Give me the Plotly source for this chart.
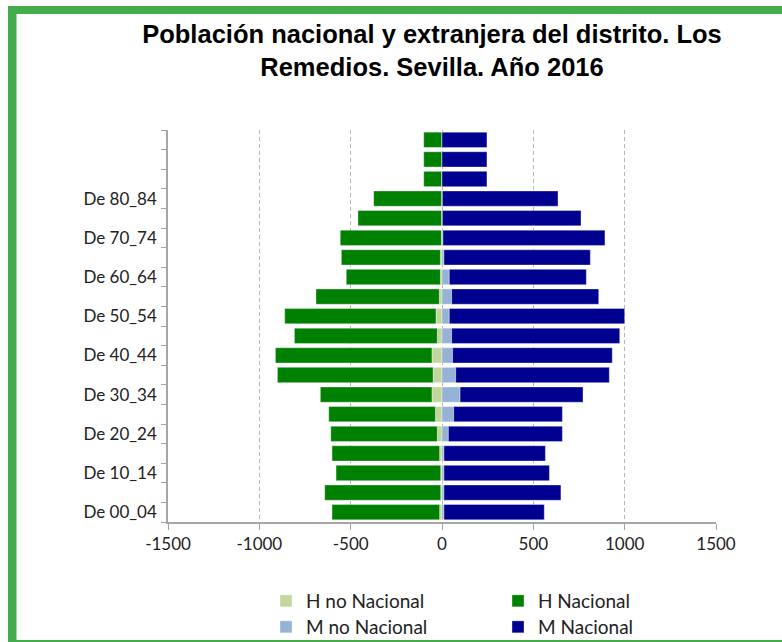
import plotly.graph_objects as go

# Grupos de edad (de abajo arriba)
grupos = ["De 00_04", "De 05_09", "De 10_14", "De 15_19", "De 20_24",
          "De 25_29", "De 30_34", "De 35_39", "De 40_44", "De 45_49",
          "De 50_54", "De 55_59", "De 60_64", "De 65_69", "De 70_74",
          "De 75_79", "De 80_84", "De 85_89", "De 90_94", "De 95_99"]
# etiquetas visibles en el eje (una de cada dos, las tres últimas vacías)
etiquetas = ["De 00_04", "", "De 10_14", "", "De 20_24", "", "De 30_34", "",
             "De 40_44", "", "De 50_54", "", "De 60_64", "", "De 70_74", "",
             "De 80_84", "", "", ""]

h_no_nacional = [13, 7, 7, 13, 26, 36, 55, 49, 55, 26,
                 33, 15, 9, 9, 3, 2, 2, 1, 0, 0]
h_nacional = [589, 635, 573, 589, 583, 584, 611, 852, 857, 782,
              828, 675, 515, 542, 554, 458, 372, 99, 100, 100]
m_no_nacional = [11, 11, 11, 11, 35, 64, 99, 75, 58, 53,
                 40, 53, 40, 11, 5, 2, 2, 0, 0, 0]
m_nacional = [549, 640, 577, 555, 624, 595, 673, 841, 874, 920,
              960, 805, 750, 801, 887, 759, 633, 246, 246, 246]

x_ticks = [-1500, -1000, -500, 0, 500, 1000, 1500]
x_tick_labels = ["-1500", "-1000", "-500", "0", "500", "1000", "1500"]

W, H = 782, 642
L, R, T, B = 168, 66, 130, 120


def px_x(px):
    return (px - L) / (W - L - R)


def px_y(py):
    return (H - B - py) / (H - T - B)


fig = go.Figure()
fig.add_trace(go.Bar(y=grupos, x=[-v for v in h_no_nacional], orientation="h",
                     name="H no Nacional", marker_color="#C3D69B", legend="legend"))
fig.add_trace(go.Bar(y=grupos, x=[-v for v in h_nacional], orientation="h",
                     name="H Nacional", marker_color="#008000", legend="legend"))
fig.add_trace(go.Bar(y=grupos, x=m_no_nacional, orientation="h",
                     name="M no Nacional", marker_color="#95B3D7", legend="legend2"))
fig.add_trace(go.Bar(y=grupos, x=m_nacional, orientation="h",
                     name="M Nacional", marker_color="#000090", legend="legend2"))
fig.update_traces(marker_line_width=0.6, marker_line_color="rgba(255,255,255,0.6)")

font = "Lato, 'Open Sans', sans-serif"
legend_common = dict(orientation="h", xref="container", yref="container",
                     xanchor="left", yanchor="middle", entrywidth=187,
                     entrywidthmode="pixels", font=dict(family=font, size=19, color="#222"),
                     bgcolor="rgba(0,0,0,0)", itemclick=False, traceorder="normal")

frame = "#44AD4B"
shapes = [
    dict(type="rect", xref="paper", yref="paper", x0=px_x(8), x1=px_x(16.5),
         y0=px_y(646), y1=px_y(6), fillcolor=frame, line_width=0, layer="above"),
    dict(type="rect", xref="paper", yref="paper", x0=px_x(8), x1=px_x(790),
         y0=px_y(14), y1=px_y(6), fillcolor=frame, line_width=0, layer="above"),
    dict(type="rect", xref="paper", yref="paper", x0=px_x(8), x1=px_x(790),
         y0=px_y(646), y1=px_y(640), fillcolor=frame, line_width=0, layer="above"),
]

fig.update_layout(
    width=W, height=H,
    margin=dict(l=L, r=R, t=T, b=B),
    paper_bgcolor="white", plot_bgcolor="white",
    barmode="relative", bargap=0.22,
    title=dict(text="Población nacional y extranjera del distrito. Los<br>Remedios. Sevilla. Año 2016",
               x=432 / W, xanchor="center", xref="container",
               y=1 - 43 / H, yanchor="top", yref="container",
               font=dict(family="'Liberation Sans', Arial, sans-serif", size=25.5, color="black",
                         weight="bold")),
    xaxis=dict(range=[-1500, 1500], tickvals=x_ticks, ticktext=x_tick_labels,
               ticks="outside", ticklen=6,
               tickcolor="#A6A6A6", showline=True, linecolor="#A6A6A6", linewidth=1.5,
               showgrid=True, gridcolor="#B8B8B8", griddash="4px,3px", gridwidth=1.3,
               zeroline=False, tickfont=dict(family=font, size=17, color="#222"),
               fixedrange=True),
    yaxis=dict(type="category", categoryorder="array", categoryarray=grupos,
               tickmode="array", tickvals=grupos, ticktext=etiquetas,
               tickson="boundaries", ticks="outside", ticklen=5, tickcolor="#A6A6A6",
               showline=True, linecolor="#A6A6A6", linewidth=1.5, showgrid=False,
               tickfont=dict(family=font, size=17, color="#222"), ticklabelstandoff=6,
               fixedrange=True),
    legend=dict(x=266 / W, y=1 - 601 / H, **legend_common),
    legend2=dict(x=266 / W, y=1 - 627 / H, **legend_common),
    shapes=shapes,
)

fig.write_html("out.html", config={"displayModeBar": False},
               post_script="document.body.style.margin='0px';document.body.style.overflow='hidden';")
